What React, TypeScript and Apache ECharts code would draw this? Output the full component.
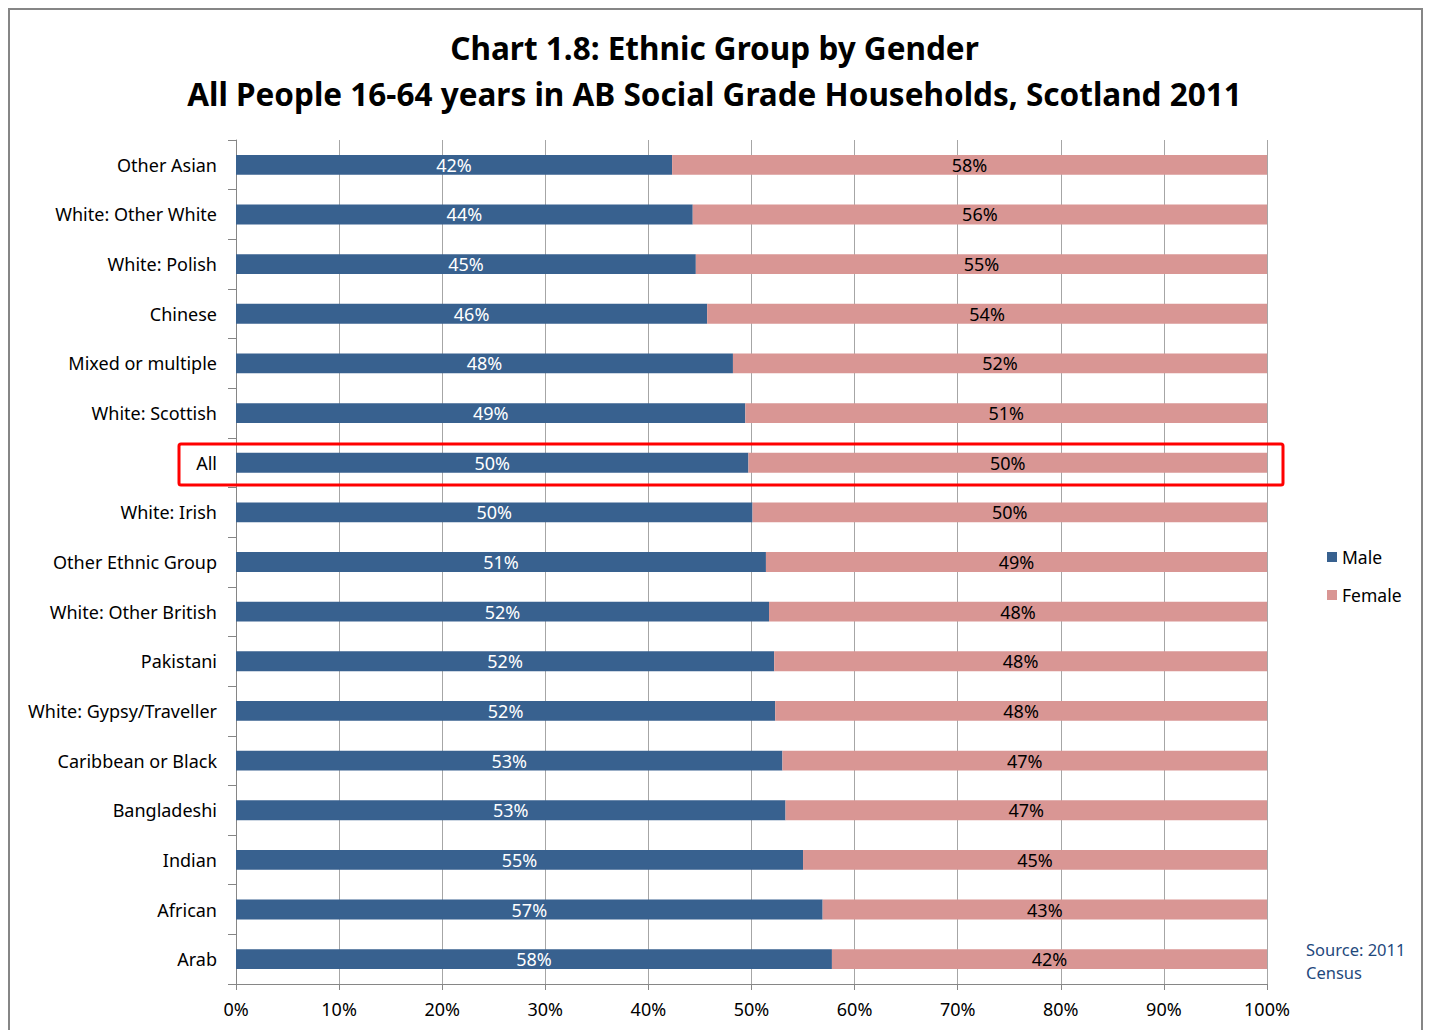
import React, { useEffect, useRef } from "react";
import * as echarts from "echarts";

const categories = [
  "Other Asian",
  "White: Other White",
  "White: Polish",
  "Chinese",
  "Mixed or multiple",
  "White: Scottish",
  "All",
  "White: Irish",
  "Other Ethnic Group",
  "White: Other British",
  "Pakistani",
  "White: Gypsy/Traveller",
  "Caribbean or Black",
  "Bangladeshi",
  "Indian",
  "African",
  "Arab",
];

const maleValues = [42.3, 44.3, 44.6, 45.7, 48.2, 49.4, 49.7, 50.1, 51.4, 51.7, 52.2, 52.3, 53.0, 53.3, 55.0, 56.9, 57.8];
const femaleValues = [57.7, 55.7, 55.4, 54.3, 51.8, 50.6, 50.3, 49.9, 48.6, 48.3, 47.8, 47.7, 47.0, 46.7, 45.0, 43.1, 42.2];

const xTicks = { min: 0, max: 100, interval: 10 };

const titleLines = [
  "Chart 1.8: Ethnic Group by Gender",
  "All People 16-64 years in AB Social Grade Households, Scotland 2011",
];
const sourceText = "Source: 2011\nCensus";

const FONT = "Noto Sans";

export default function App() {
  const ref = useRef<HTMLDivElement>(null);
  useEffect(() => {
    if (!ref.current) return;
    const chart = echarts.init(ref.current, null, { renderer: "svg" });
    const fmt = (p: any) => Math.round(p.value) + "%";
    chart.setOption({
      animation: false,
      backgroundColor: "#ffffff",
      title: {
        text: titleLines.join("\n"),
        left: "center",
        top: 19,
        textStyle: {
          fontFamily: FONT,
          fontWeight: "bold",
          fontSize: 31.5,
          lineHeight: 46,
          color: "#000000",
        },
      },
      legend: {
        orient: "vertical",
        left: 1322,
        top: 543,
        itemWidth: 10,
        itemHeight: 10,
        itemGap: 20,
        icon: "rect",
        data: ["Male", "Female"],
        textStyle: { fontFamily: FONT, fontSize: 17.5, color: "#000" },
      },
      grid: { left: 236, right: 162, top: 140, bottom: 46, containLabel: false },
      xAxis: {
        type: "value",
        min: xTicks.min,
        max: xTicks.max,
        interval: xTicks.interval,
        axisLine: { show: true, lineStyle: { color: "#868686", width: 1 } },
        axisTick: { show: true, length: 6, lineStyle: { color: "#868686" } },
        axisLabel: {
          formatter: "{value}%",
          fontFamily: FONT,
          fontSize: 18,
          color: "#000",
          margin: 16,
        },
        splitLine: { show: true, lineStyle: { color: "#a6a6a6", width: 1 } },
      },
      yAxis: {
        type: "category",
        inverse: true,
        data: categories,
        axisLine: { show: true, lineStyle: { color: "#868686", width: 1 } },
        axisTick: { show: true, length: 8, lineStyle: { color: "#868686" } },
        axisLabel: {
          fontFamily: FONT,
          fontSize: 18,
          color: "#000",
          margin: 19,
        },
      },
      series: [
        {
          name: "Male",
          type: "bar",
          stack: "total",
          barWidth: "40%",
          data: maleValues,
          itemStyle: { color: "#38618f" },
          label: {
            show: true,
            position: "inside",
            formatter: fmt,
            fontFamily: FONT,
            fontSize: 18,
            color: "#ffffff",
          },
        },
        {
          name: "Female",
          type: "bar",
          stack: "total",
          barWidth: "40%",
          data: femaleValues,
          itemStyle: { color: "#d99694" },
          label: {
            show: true,
            position: "inside",
            formatter: fmt,
            fontFamily: FONT,
            fontSize: 18,
            color: "#000000",
          },
        },
      ],
      graphic: [
        {
          type: "rect",
          shape: { x: 9, y: 9, width: 1413, height: 1030 },
          style: { fill: "none", stroke: "#868686", lineWidth: 2 },
          silent: true,
        },
        {
          type: "rect",
          shape: { x: 179, y: 444, width: 1104, height: 41, r: 2 },
          style: { fill: "none", stroke: "#ff0000", lineWidth: 3 },
          silent: true,
          z: 100,
        },
        {
          type: "text",
          x: 1306,
          y: 938,
          style: {
            text: sourceText,
            fontFamily: FONT,
            fontSize: 16.5,
            lineHeight: 23,
            fill: "#1f497d",
          },
        },
      ],
    });
    return () => chart.dispose();
  }, []);
  return (
    <div
      ref={ref}
      style={{ position: "absolute", left: 0, top: 0, width: 1429, height: 1030 }}
    />
  );
}
